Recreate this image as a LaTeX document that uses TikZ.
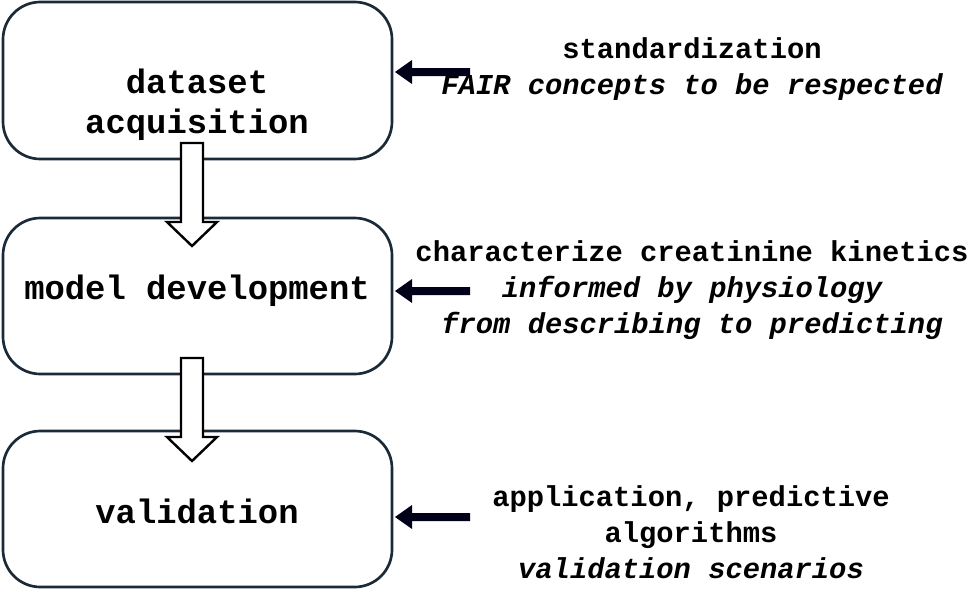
\documentclass[tikz,border=0pt]{standalone}
\usepackage{fontspec}
\setmonofont{Liberation Mono}
\definecolor{stageline}{HTML}{1A2A38}
\begin{document}
\begin{tikzpicture}[x=0.75pt,y=-0.75pt]
\tikzset{stage/.style={draw=stageline,line width=2pt,rounded corners=28pt},
  note/.style={font=\ttfamily\bfseries\fontsize{21.6}{27}\selectfont,align=center,inner sep=0pt}}
\useasboundingbox (0,0) rectangle (969,590);
% stages
\draw [stage] (3,2) rectangle (392,159);
\draw [stage] (3,218) rectangle (392,374);
\draw [stage] (3,431) rectangle (392,587);
\node (acq) [font=\ttfamily\bfseries\fontsize{25.4}{30}\selectfont,align=center] at (197,105) {dataset\\acquisition};
\node (dev) [font=\ttfamily\bfseries\fontsize{25.4}{30}\selectfont] at (197,291) {model development};
\node (val) [font=\ttfamily\bfseries\fontsize{25.4}{30}\selectfont] at (197,511) {validation};
% hollow arrows
\foreach \y in {143,358} {
  \draw [line width=1.8pt,fill=white,line join=miter]
    (181,\y) -- (203,\y) -- (203,\y+79) -- (217,\y+79) -- (192,\y+103)
    -- (167,\y+79) -- (181,\y+79) -- cycle;
}
% notes
\node (std) [note] at (692,69) {standardization\\\itshape FAIR concepts to be respected};
\node (kin) [note] at (692,290) {characterize creatinine kinetics\\\itshape informed by physiology\\\itshape from describing to predicting};
\node (alg) [note] at (691,532) {application, predictive\\algorithms\\\itshape validation scenarios};
% solid arrows
\foreach \y in {72,291,517} {
  \fill [black!90!blue] (470,\y-4) -- (412,\y-4) -- (412,\y-12) -- (395,\y)
    -- (412,\y+12) -- (412,\y+4) -- (470,\y+4) -- cycle;
}
\end{tikzpicture}
\end{document}
